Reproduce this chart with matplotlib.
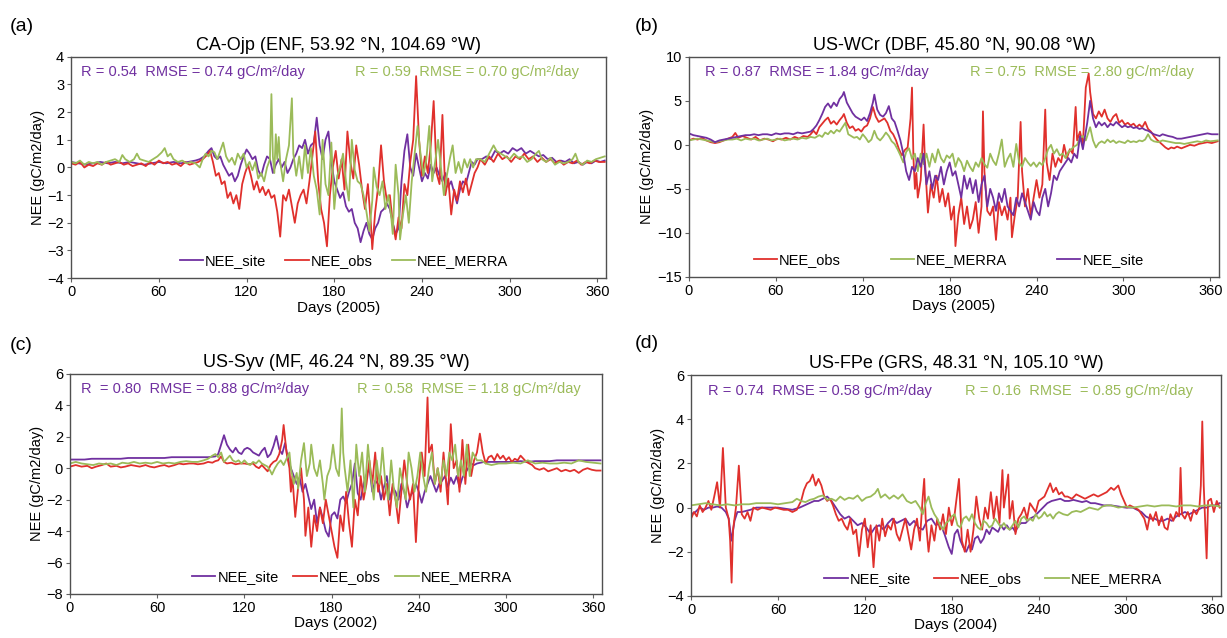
import matplotlib
matplotlib.use('Agg')
import matplotlib.pyplot as plt
import numpy as np

plt.rcParams['font.family'] = ['Liberation Sans', 'DejaVu Sans']

# daily NEE read as (day, value) pairs, gC/m2/day
a_site = [(0,0.2),(5,0.15),(10,0.1),(15,0.15),(20,0.2),(25,0.15),(30,0.2),(35,0.15),(40,0.2),(45,0.15),(50,0.1),(55,0.15),(60,0.2),(65,0.15),(70,0.2),(75,0.15),(80,0.2),(85,0.25),(88,0.3),(91,0.4),(94,0.6),(96,0.7),(98,0.4),(100,0.3),(102,0.4),(104,0.1),(106,-0.1),(108,-0.3),(110,-0.2),(112,-0.5),(114,-0.3),(116,0.1),(118,0.4),(120,0.65),(122,0.5),(124,0.3),(126,0.4),(128,-0.1),(130,-0.3),(132,0.1),(134,0.4),(136,0.3),(138,-0.2),(140,0.1),(142,0.3),(144,0.0),(146,0.2),(148,-0.2),(150,0.0),(152,0.3),(154,0.5),(156,0.8),(158,0.7),(160,1.0),(162,0.5),(164,0.8),(166,0.9),(168,1.8),(170,0.8),(172,0.3),(174,1.0),(176,1.3),(178,0.2),(180,-0.5),(182,-0.8),(184,-1.1),(186,-0.9),(188,-1.4),(190,-1.6),(192,-1.5),(194,-2.0),(196,-2.2),(198,-2.7),(200,-2.3),(202,-2.0),(204,-2.4),(206,-2.6),(208,-2.2),(210,-2.0),(212,-1.6),(214,-1.5),(216,-1.3),(218,-1.5),(220,-2.0),(222,-2.4),(224,-2.2),(226,-0.5),(228,0.6),(230,1.2),(232,0.0),(234,-0.3),(236,0.5),(238,0.0),(240,-0.5),(242,-0.2),(244,-0.4),(246,0.1),(248,-0.2),(250,0.0),(252,-0.3),(254,-0.5),(256,-0.2),(258,-0.7),(260,-0.5),(262,-0.9),(264,-1.3),(266,-0.8),(268,-0.5),(270,-0.6),(272,-0.2),(274,0.2),(276,0.1),(278,0.3),(281,0.3),(284,0.4),(287,0.3),(290,0.6),(293,0.5),(296,0.6),(299,0.5),(302,0.7),(305,0.6),(308,0.7),(311,0.5),(314,0.6),(317,0.5),(320,0.4),(323,0.45),(326,0.3),(329,0.35),(332,0.2),(335,0.25),(338,0.2),(341,0.3),(344,0.15),(347,0.2),(350,0.1),(353,0.2),(356,0.15),(359,0.25),(362,0.2),(365,0.25)]
a_obs = [(0,0.15),(3,0.1),(6,0.2),(9,0.0),(12,0.1),(15,0.05),(18,0.15),(21,0.1),(24,0.2),(27,0.1),(30,0.15),(33,0.2),(36,0.1),(39,0.15),(42,0.05),(45,0.1),(48,0.15),(51,0.05),(54,0.2),(57,0.1),(60,0.25),(63,0.15),(66,0.2),(69,0.1),(72,0.15),(75,0.05),(78,0.2),(81,0.1),(84,0.15),(87,0.2),(90,0.3),(93,0.45),(95,0.6),(97,0.2),(99,-0.3),(101,-0.2),(103,-0.6),(105,-0.5),(107,-1.1),(109,-0.9),(111,-1.3),(113,-1.0),(115,-1.5),(117,-0.6),(119,-0.2),(121,0.1),(123,-0.3),(125,-0.8),(127,-0.5),(129,-0.9),(131,-0.7),(133,-1.0),(135,-0.8),(137,-1.1),(139,-1.0),(141,-1.6),(143,-2.5),(145,-1.0),(147,-1.2),(149,-0.8),(151,-1.4),(153,-2.0),(155,-1.3),(157,-1.0),(159,-0.8),(161,-1.3),(163,-0.5),(165,0.4),(167,1.3),(169,-0.5),(171,-1.5),(173,-2.0),(175,-2.85),(177,-1.0),(179,0.0),(181,0.6),(183,-0.4),(185,0.3),(187,-0.8),(189,1.3),(191,0.2),(193,-0.4),(195,0.8),(197,0.1),(199,-0.8),(201,-1.5),(203,-0.6),(205,-2.0),(206,-2.95),(208,-1.6),(210,-0.7),(212,0.8),(214,-0.5),(216,-1.2),(218,-1.0),(220,-2.0),(222,-2.6),(224,-1.8),(226,-2.2),(228,-0.6),(230,-1.0),(232,0.2),(234,1.0),(236,3.3),(238,1.0),(240,-0.3),(242,0.4),(244,-0.2),(246,0.8),(248,2.4),(250,-0.2),(252,-0.6),(254,1.9),(256,-1.0),(258,-0.4),(260,-1.7),(262,-0.8),(264,-1.2),(266,-0.5),(268,-0.9),(270,-0.4),(272,-1.0),(274,-0.6),(276,-0.2),(278,0.0),(280,0.3),(283,0.1),(286,0.4),(289,0.2),(292,0.5),(295,0.3),(298,0.4),(301,0.2),(304,0.4),(307,0.3),(310,0.5),(313,0.3),(316,0.4),(319,0.2),(322,0.35),(325,0.2),(328,0.3),(331,0.15),(334,0.25),(337,0.1),(340,0.2),(343,0.15),(346,0.25),(349,0.1),(352,0.2),(355,0.15),(358,0.25),(361,0.2),(365,0.2)]
a_merra = [(0,0.2),(3,0.15),(6,0.25),(9,0.1),(12,0.2),(15,0.15),(18,0.2),(21,0.1),(24,0.2),(27,0.25),(30,0.3),(33,0.2),(35,0.45),(37,0.3),(40,0.2),(43,0.3),(45,0.5),(47,0.3),(50,0.25),(53,0.2),(56,0.3),(59,0.4),(62,0.55),(64,0.7),(66,0.4),(68,0.5),(70,0.3),(73,0.2),(76,0.25),(79,0.15),(82,0.2),(85,0.15),(88,0.0),(90,0.3),(92,0.5),(94,0.4),(96,0.6),(98,0.55),(100,0.3),(102,0.6),(104,0.9),(106,0.4),(108,0.2),(110,0.35),(112,0.1),(114,0.5),(116,0.3),(118,0.5),(120,0.0),(122,0.2),(124,-0.1),(126,0.2),(128,-0.4),(130,-0.2),(132,-0.5),(134,0.0),(136,0.3),(137,2.65),(138,0.4),(139,-0.2),(140,1.2),(141,0.3),(142,1.1),(143,0.2),(145,-0.5),(147,0.3),(149,0.8),(151,2.5),(152,0.5),(154,-0.3),(156,0.4),(158,-0.4),(160,0.8),(162,-0.2),(164,0.7),(166,-0.3),(168,-0.8),(170,-1.7),(172,1.0),(174,-0.6),(176,-1.0),(178,0.9),(180,-1.5),(182,-0.3),(184,0.0),(186,0.5),(188,-0.5),(190,-1.2),(192,1.0),(194,-0.1),(196,-0.5),(198,-0.6),(200,-1.0),(202,-1.6),(204,-2.3),(206,-1.2),(207,0.0),(209,-0.7),(211,-1.0),(213,-0.5),(215,-1.5),(217,-1.0),(219,-1.8),(220,-2.4),(222,0.1),(224,-1.0),(225,-2.6),(227,-1.7),(229,-1.0),(231,-2.0),(233,-0.5),(235,0.5),(237,1.5),(239,0.5),(241,-0.3),(243,0.3),(245,1.5),(247,-0.5),(249,0.2),(251,1.0),(253,0.0),(255,-1.0),(257,-0.3),(259,0.3),(261,0.8),(263,-0.2),(265,0.2),(267,-0.2),(269,0.3),(271,0.0),(273,0.3),(275,0.0),(277,0.3),(280,0.3),(283,0.2),(286,0.5),(289,0.8),(291,0.6),(294,0.5),(297,0.4),(300,0.3),(303,0.5),(306,0.35),(309,0.4),(312,0.2),(315,0.3),(318,0.5),(320,0.6),(322,0.3),(325,0.2),(328,0.35),(331,0.1),(334,0.2),(337,0.15),(340,0.2),(343,0.3),(345,0.5),(347,0.2),(350,0.1),(353,0.25),(356,0.2),(359,0.3),(362,0.35),(365,0.4)]

b_obs = [(0,0.5),(3,0.7),(6,0.6),(9,0.8),(12,0.5),(15,0.3),(18,0.2),(21,0.3),(24,0.5),(27,0.7),(30,0.9),(32,1.35),(34,0.8),(37,1.0),(40,0.8),(43,0.6),(46,0.9),(49,0.5),(52,0.7),(55,0.6),(58,0.4),(61,0.7),(64,0.6),(67,0.8),(70,0.6),(73,0.9),(76,0.7),(79,1.0),(82,0.9),(84,1.2),(86,1.6),(88,1.2),(90,2.0),(92,2.4),(94,2.8),(96,3.1),(98,2.4),(100,2.7),(102,2.3),(104,2.8),(106,3.2),(107,3.5),(109,2.5),(111,1.9),(113,2.1),(115,1.6),(117,1.8),(119,1.5),(121,2.0),(123,2.2),(125,3.0),(127,4.3),(129,3.2),(131,2.6),(133,2.8),(135,3.0),(137,2.5),(139,1.6),(141,1.2),(143,0.5),(145,-0.5),(147,-1.2),(149,-0.6),(151,-0.3),(153,3.0),(154,6.5),(155,-1.5),(156,-5.0),(157,-3.2),(158,-6.0),(160,-4.0),(162,2.3),(163,-2.0),(165,-7.7),(167,-4.5),(169,-6.0),(171,-3.5),(173,-6.5),(175,-5.0),(177,-7.0),(179,-5.5),(181,-8.5),(183,-7.0),(184,-11.5),(186,-8.0),(188,-6.0),(190,-9.0),(192,-7.0),(194,-9.5),(196,-8.5),(198,-6.5),(200,-10.0),(202,-7.0),(203,3.8),(204,-3.0),(206,-7.5),(208,-8.0),(210,-7.0),(212,-10.8),(214,-6.5),(216,-8.0),(218,-7.0),(220,-8.5),(222,-6.0),(223,-10.5),(225,-8.0),(227,-6.0),(229,2.6),(230,-3.0),(232,-7.0),(234,-5.0),(236,-8.0),(238,-6.0),(240,-4.0),(242,-6.0),(244,-4.5),(246,4.0),(247,-2.0),(249,-4.0),(251,-1.0),(253,-2.5),(255,-1.5),(257,-2.0),(259,0.0),(261,-1.5),(263,-0.5),(265,-1.0),(267,4.3),(268,0.5),(270,1.5),(272,0.0),(274,6.5),(276,8.1),(277,6.0),(279,3.5),(281,3.0),(283,3.8),(285,3.2),(287,4.0),(289,3.0),(291,2.6),(293,3.2),(295,3.5),(297,2.5),(299,2.8),(301,2.3),(303,2.5),(305,2.2),(307,2.4),(309,2.0),(311,2.3),(313,2.0),(315,2.6),(317,1.8),(319,1.5),(321,1.0),(323,0.6),(325,0.3),(327,0.0),(329,-0.3),(331,-0.5),(333,-0.3),(335,-0.4),(337,-0.2),(340,-0.4),(343,-0.2),(346,0.0),(349,-0.1),(352,0.1),(355,0.2),(358,0.3),(361,0.2),(365,0.4)]
b_merra = [(0,0.5),(3,0.6),(6,0.7),(9,0.6),(12,0.5),(15,0.4),(18,0.3),(21,0.4),(24,0.5),(27,0.6),(30,0.6),(33,0.7),(36,0.5),(39,0.7),(42,0.6),(45,0.7),(48,0.5),(51,0.6),(54,0.7),(57,0.5),(60,0.6),(63,0.7),(66,0.5),(69,0.6),(72,0.7),(75,0.6),(78,0.8),(81,0.7),(84,0.9),(87,0.8),(90,1.1),(92,0.9),(94,1.4),(96,1.2),(98,1.6),(100,1.3),(102,1.7),(104,1.5),(106,2.0),(108,2.5),(110,1.2),(112,1.0),(114,0.8),(116,0.9),(118,0.6),(120,1.2),(122,0.8),(124,0.3),(126,0.6),(128,1.6),(130,0.8),(132,0.5),(134,0.9),(136,1.4),(138,1.0),(140,0.4),(142,0.1),(144,-0.5),(146,-1.2),(148,-2.0),(150,-0.8),(152,-0.4),(154,-1.6),(156,-1.0),(158,-3.0),(160,-1.0),(162,-2.2),(164,-1.0),(166,-2.5),(168,-1.0),(170,-2.0),(172,-0.5),(174,-1.5),(176,-2.0),(178,-1.2),(180,-1.5),(182,-1.0),(184,-2.5),(186,-1.5),(188,-2.0),(190,-3.0),(192,-1.8),(194,-2.5),(196,-3.0),(198,-2.0),(200,-2.5),(202,-1.5),(204,-2.2),(206,-2.6),(208,-1.0),(210,-1.8),(212,-2.3),(214,-1.0),(216,0.6),(218,-2.5),(220,-1.6),(222,-1.0),(224,-2.5),(226,0.1),(228,-2.0),(230,-2.5),(232,-1.5),(234,-2.0),(236,-2.4),(238,-2.0),(240,-2.5),(242,-2.0),(244,-2.3),(246,-1.5),(248,-0.5),(250,0.0),(252,-1.0),(254,-0.5),(256,-1.2),(258,-1.0),(260,-1.5),(262,-0.8),(264,-0.5),(266,-0.2),(268,0.0),(270,0.8),(272,1.0),(274,0.5),(276,1.5),(277,2.0),(279,0.5),(281,-0.3),(283,0.2),(285,0.4),(287,0.2),(289,0.6),(291,0.3),(293,0.5),(295,0.2),(297,0.4),(299,0.3),(301,0.2),(303,0.5),(305,0.3),(307,0.4),(309,0.3),(311,0.5),(313,0.4),(315,0.6),(317,1.2),(319,0.6),(321,0.4),(324,0.3),(327,0.5),(330,0.4),(333,0.3),(336,0.2),(339,0.2),(342,0.1),(345,0.2),(348,0.3),(351,0.4),(354,0.3),(357,0.5),(360,0.4),(365,0.5)]
b_site = [(0,1.3),(3,1.1),(6,1.0),(9,0.9),(12,0.8),(15,0.6),(18,0.3),(21,0.5),(24,0.6),(27,0.7),(30,0.8),(33,0.9),(36,1.0),(39,1.1),(42,1.1),(45,1.2),(48,1.1),(51,1.2),(54,1.2),(57,1.1),(60,1.3),(63,1.2),(66,1.3),(69,1.3),(72,1.2),(75,1.4),(78,1.3),(81,1.4),(84,1.5),(86,1.8),(88,2.2),(90,2.8),(92,3.5),(94,4.3),(96,4.7),(98,4.2),(100,4.8),(102,4.4),(104,5.2),(106,5.6),(107,6.0),(109,4.8),(111,4.2),(113,3.6),(115,3.2),(117,3.0),(119,2.8),(121,3.1),(123,2.7),(125,3.6),(127,4.8),(128,5.7),(130,4.0),(132,3.4),(134,3.2),(136,3.6),(138,4.4),(140,3.0),(142,2.6),(144,1.6),(146,0.5),(148,-1.0),(150,-3.0),(152,-4.0),(154,-2.5),(156,-3.0),(158,-1.5),(160,-2.5),(162,-1.0),(164,-4.5),(166,-3.0),(168,-5.0),(170,-3.5),(172,-4.0),(174,-2.5),(176,-4.5),(178,-3.0),(180,-2.0),(182,-3.5),(184,-3.0),(186,-4.5),(188,-6.0),(190,-3.5),(192,-5.0),(194,-3.8),(196,-5.5),(198,-4.0),(200,-6.5),(202,-4.5),(204,-3.5),(206,-7.0),(208,-5.0),(210,-6.0),(212,-7.5),(214,-5.5),(216,-6.5),(218,-5.0),(220,-7.0),(222,-7.5),(224,-8.0),(226,-6.0),(228,-7.0),(230,-5.5),(232,-6.5),(234,-7.5),(236,-8.5),(238,-6.5),(240,-7.5),(242,-8.0),(244,-6.0),(246,-5.0),(248,-7.0),(250,-5.5),(252,-3.5),(254,-4.0),(256,-3.0),(258,-2.5),(260,-2.0),(262,-1.5),(264,-2.0),(266,-1.0),(268,-1.5),(270,1.0),(272,-0.5),(274,1.5),(275,2.5),(277,5.0),(279,3.0),(281,2.0),(283,2.6),(285,2.2),(287,2.5),(289,2.0),(291,2.4),(293,2.2),(295,2.6),(297,2.3),(299,2.0),(301,2.2),(303,2.0),(305,2.1),(307,1.9),(309,2.0),(311,1.8),(313,1.9),(315,1.7),(317,1.6),(319,1.4),(321,1.2),(323,1.1),(325,1.0),(327,1.2),(329,1.1),(331,1.0),(334,0.9),(337,0.7),(340,0.7),(343,0.8),(346,0.9),(349,1.0),(352,1.1),(355,1.2),(358,1.3),(361,1.2),(365,1.2)]

c_site = [(0,0.55),(5,0.55),(10,0.55),(15,0.6),(20,0.6),(25,0.6),(30,0.6),(35,0.6),(40,0.65),(45,0.65),(50,0.65),(55,0.65),(60,0.65),(65,0.65),(70,0.7),(75,0.7),(80,0.7),(85,0.7),(90,0.7),(95,0.7),(100,0.75),(102,0.9),(104,1.5),(106,2.1),(108,1.5),(110,1.2),(112,1.0),(114,1.3),(116,1.0),(118,0.9),(120,1.2),(122,1.3),(124,1.2),(126,1.0),(128,0.9),(130,0.8),(132,1.1),(134,1.3),(136,0.7),(138,0.9),(140,1.4),(142,2.05),(144,1.2),(146,0.9),(148,1.6),(150,0.6),(152,0.0),(154,-0.5),(156,-1.0),(158,-0.6),(160,-1.5),(162,-1.0),(164,-1.8),(166,-2.6),(168,-2.0),(170,-3.5),(172,-2.5),(174,-3.2),(176,-4.0),(178,-4.35),(180,-3.0),(182,-2.8),(184,-3.2),(186,-2.0),(188,-1.8),(190,-2.2),(192,-1.5),(194,-1.0),(196,0.3),(198,-1.6),(200,-2.0),(202,-1.0),(204,-0.4),(206,0.0),(208,-1.5),(210,-0.8),(212,-1.0),(214,-2.0),(216,-1.2),(218,-0.5),(220,-2.0),(222,-1.2),(224,-1.5),(226,-2.0),(228,-1.0),(230,-1.5),(232,-2.5),(234,-1.8),(236,-1.5),(238,-1.0),(240,-1.5),(242,-2.2),(244,-1.5),(246,-1.0),(248,-0.5),(250,-1.0),(252,-1.5),(254,-1.0),(256,-0.8),(258,-0.5),(260,-1.2),(262,-0.6),(264,-1.0),(266,-0.5),(268,-1.2),(270,-0.6),(272,-0.3),(274,0.0),(276,0.3),(278,0.2),(280,0.3),(285,0.4),(290,0.4),(295,0.4),(300,0.4),(305,0.4),(310,0.45),(315,0.4),(320,0.45),(325,0.45),(330,0.45),(335,0.5),(340,0.5),(345,0.5),(350,0.5),(355,0.5),(360,0.5),(365,0.5)]
c_obs = [(0,0.1),(4,0.2),(8,0.1),(12,0.15),(15,0.0),(18,0.1),(22,0.2),(25,0.3),(28,0.1),(32,0.15),(35,0.05),(38,0.1),(42,0.2),(45,0.15),(48,0.1),(52,0.2),(55,0.1),(58,0.05),(62,0.15),(65,0.2),(68,0.1),(72,0.2),(75,0.3),(78,0.25),(82,0.3),(85,0.3),(88,0.25),(92,0.3),(95,0.4),(98,0.35),(100,0.45),(102,0.5),(104,0.75),(106,0.4),(108,0.3),(111,0.35),(114,0.25),(117,0.3),(120,0.3),(123,0.25),(126,0.3),(128,0.1),(130,0.0),(132,0.2),(134,0.0),(136,-0.2),(138,0.2),(140,0.4),(142,0.5),(144,0.9),(146,1.8),(147,2.75),(149,1.0),(151,0.0),(152,-1.5),(153,-0.5),(155,-3.1),(157,-1.2),(159,0.0),(161,-2.0),(162,-4.3),(164,-2.5),(166,-5.0),(168,-3.0),(170,-4.0),(172,-2.5),(174,-3.5),(176,-2.0),(178,-3.0),(180,-4.0),(182,-5.0),(184,-5.7),(186,-3.0),(188,-4.0),(190,-1.5),(192,-3.5),(194,-5.0),(196,-2.0),(198,-3.0),(200,-0.5),(202,-2.0),(204,-1.0),(206,0.5),(208,-1.0),(210,1.0),(212,-1.5),(214,-0.5),(216,-2.0),(218,-1.0),(220,-3.0),(222,-1.0),(224,-2.0),(226,-3.5),(228,-1.5),(230,0.5),(232,-1.0),(234,-2.0),(236,-1.0),(238,-4.7),(240,-1.0),(242,1.0),(244,-0.5),(246,4.5),(247,1.0),(249,1.5),(251,-1.0),(253,0.0),(255,-1.5),(257,1.0),(260,-2.3),(262,2.8),(264,0.0),(266,0.5),(268,-1.5),(270,1.8),(272,-1.0),(274,1.5),(276,-0.5),(278,0.5),(280,1.0),(282,2.2),(284,1.0),(286,0.3),(288,0.7),(290,0.8),(292,0.5),(294,0.9),(296,0.6),(298,0.8),(300,0.5),(302,0.7),(304,0.4),(306,0.6),(308,0.5),(310,0.8),(312,0.6),(314,0.4),(316,0.3),(318,0.2),(320,0.0),(323,-0.1),(326,0.0),(329,-0.2),(332,-0.1),(335,0.0),(338,-0.2),(341,-0.1),(344,-0.2),(347,-0.1),(350,-0.3),(353,-0.1),(356,0.0),(359,-0.1),(362,-0.15),(365,-0.15)]
c_merra = [(0,0.3),(4,0.4),(8,0.3),(12,0.25),(16,0.2),(20,0.3),(24,0.25),(28,0.3),(32,0.2),(36,0.35),(40,0.3),(44,0.4),(48,0.3),(52,0.35),(56,0.3),(60,0.4),(64,0.3),(68,0.35),(72,0.3),(76,0.4),(80,0.45),(84,0.4),(88,0.4),(92,0.5),(95,0.6),(98,0.8),(100,0.9),(102,0.7),(104,1.0),(106,0.4),(108,0.6),(110,0.8),(112,0.5),(114,0.4),(116,0.5),(118,0.3),(120,0.5),(122,0.3),(124,0.2),(126,0.4),(128,0.3),(130,0.5),(132,0.3),(134,0.2),(136,0.1),(138,-0.2),(139,-0.4),(141,0.0),(143,0.3),(145,0.5),(147,0.2),(149,0.6),(151,1.0),(152,0.0),(154,-1.0),(156,-0.3),(157,-1.3),(159,0.5),(161,1.6),(163,-0.5),(165,0.3),(166,1.5),(168,0.0),(170,-0.5),(172,0.5),(174,-1.0),(175,-2.0),(177,-0.5),(179,0.0),(181,1.5),(183,0.0),(185,-0.5),(186,1.0),(187,3.8),(188,1.0),(189,0.0),(191,-1.5),(193,0.5),(195,-2.5),(197,1.5),(199,-0.5),(201,1.0),(203,-1.5),(205,1.5),(207,-0.5),(209,-2.0),(211,0.5),(213,-1.0),(215,1.3),(217,-1.0),(219,-2.0),(221,0.5),(223,-1.5),(225,-2.5),(227,0.0),(229,-1.0),(231,-2.0),(233,1.0),(235,0.0),(237,-1.5),(239,-0.5),(241,1.0),(243,-0.5),(245,-1.5),(247,0.0),(249,1.0),(251,-1.0),(253,0.0),(255,-1.0),(257,0.5),(259,-0.5),(261,1.0),(263,0.5),(265,1.5),(267,-0.5),(269,0.5),(271,-0.5),(273,1.5),(275,-0.5),(277,1.0),(280,0.5),(283,0.5),(286,0.3),(290,0.2),(295,0.3),(300,0.3),(305,0.35),(310,0.3),(315,0.5),(320,0.3),(325,0.35),(330,0.3),(335,0.3),(340,0.35),(345,0.3),(350,0.5),(355,0.4),(360,0.35),(365,0.3)]

d_site = [(0,-0.3),(3,-0.2),(6,0.0),(9,-0.1),(12,0.0),(15,0.0),(18,0.05),(21,0.0),(24,-0.2),(26,-0.5),(28,-1.5),(30,-0.6),(32,-0.2),(35,-0.2),(38,-0.15),(41,-0.1),(45,0.0),(50,0.0),(55,0.0),(60,0.0),(65,-0.05),(70,-0.1),(75,0.0),(80,0.15),(85,0.3),(88,0.3),(91,0.4),(94,0.5),(97,0.3),(100,0.0),(103,-0.3),(106,-0.5),(109,-0.4),(112,-0.6),(115,-0.8),(118,-0.7),(121,-0.9),(124,-1.2),(127,-0.9),(130,-0.8),(133,-1.0),(136,-0.7),(139,-0.5),(142,-0.7),(145,-0.6),(148,-0.5),(151,-0.8),(154,-0.6),(157,-0.9),(160,-1.0),(163,-0.6),(166,-0.5),(169,-0.8),(172,-0.7),(175,-1.2),(178,-1.8),(180,-2.1),(182,-1.2),(184,-1.0),(186,-1.5),(188,-1.8),(190,-2.0),(192,-1.7),(194,-1.9),(196,-1.4),(198,-1.3),(200,-1.6),(202,-1.4),(204,-1.0),(206,-1.2),(208,-0.9),(210,-1.0),(212,-1.1),(214,-0.8),(216,-1.0),(218,-0.8),(220,-1.0),(222,-0.9),(224,-1.1),(226,-0.8),(228,-0.7),(231,-0.7),(234,-0.5),(237,-0.4),(240,-0.2),(243,0.0),(246,0.2),(249,0.3),(252,0.35),(255,0.4),(258,0.3),(261,0.3),(264,0.35),(267,0.3),(270,0.25),(273,0.3),(276,0.2),(279,0.2),(282,0.15),(285,0.1),(290,0.1),(295,0.05),(300,0.0),(305,0.0),(308,-0.1),(311,-0.2),(314,-0.4),(317,-0.5),(320,-0.5),(323,-0.6),(326,-0.6),(329,-0.5),(332,-0.6),(335,-0.4),(338,-0.3),(341,-0.2),(344,-0.3),(347,-0.2),(350,-0.1),(353,0.0),(356,0.0),(359,0.1),(362,0.1),(365,0.2)]
d_obs = [(0,-0.5),(2,-0.2),(4,-0.4),(6,0.1),(8,-0.2),(10,0.0),(12,0.3),(14,-0.1),(16,0.5),(18,1.15),(20,0.0),(22,2.7),(24,0.0),(26,-0.5),(27,-1.5),(28,-3.4),(29,-1.0),(31,0.0),(33,1.9),(35,-0.3),(37,-0.5),(39,-0.2),(41,-0.6),(43,0.0),(46,-0.1),(49,0.0),(52,-0.05),(55,-0.1),(58,0.0),(61,-0.05),(64,-0.1),(67,-0.1),(70,-0.2),(73,-0.1),(76,0.3),(78,0.8),(80,1.1),(82,1.2),(84,1.5),(86,1.0),(88,1.3),(90,1.0),(92,0.5),(94,0.3),(96,0.4),(98,0.1),(100,-0.3),(102,-0.6),(104,-0.5),(106,-0.8),(108,-1.0),(110,-0.5),(112,-1.2),(114,-1.0),(116,-2.2),(118,-1.0),(120,-0.5),(122,-1.8),(124,-0.8),(126,-2.7),(128,-0.8),(130,-1.5),(132,-0.5),(134,-1.3),(136,-0.8),(138,-1.0),(140,-0.5),(142,-1.2),(144,-1.5),(146,-1.0),(148,-0.5),(150,-1.2),(152,-1.9),(154,-1.0),(156,-0.5),(158,-1.5),(160,0.5),(161,1.3),(162,-0.5),(164,-2.0),(166,-0.8),(168,-1.5),(170,-0.5),(172,-1.0),(174,-0.3),(176,-1.2),(178,0.0),(180,-0.8),(182,-0.3),(185,1.3),(187,-1.5),(189,-2.0),(191,-1.0),(193,-2.0),(195,-1.0),(197,0.5),(199,-0.5),(201,-1.0),(203,0.0),(205,-0.5),(207,0.7),(209,-0.5),(211,0.5),(213,-0.7),(215,1.7),(216,0.0),(219,1.5),(220,-0.5),(222,0.3),(224,-1.2),(226,-0.5),(228,-0.3),(230,0.0),(232,-0.5),(234,0.2),(236,0.0),(238,-0.2),(240,0.3),(242,0.4),(244,0.5),(246,0.8),(248,1.1),(250,0.7),(252,0.9),(254,0.6),(256,0.7),(258,0.5),(260,0.5),(263,0.4),(266,0.6),(269,0.5),(272,0.4),(275,0.5),(278,0.6),(281,0.5),(284,0.6),(287,0.7),(290,0.9),(292,0.8),(295,1.0),(297,0.6),(299,0.3),(301,0.0),(303,0.1),(306,0.0),(309,-0.1),(311,-0.3),(313,-0.5),(315,-1.0),(317,-0.3),(319,-0.6),(321,-0.2),(323,-0.8),(325,-0.4),(327,-0.9),(329,-1.0),(331,-0.3),(333,-0.6),(335,-0.2),(337,-0.4),(338,1.8),(339,-0.3),(341,-0.5),(343,-0.2),(345,-0.6),(347,-0.1),(349,-0.3),(351,0.0),(352,1.0),(353,3.9),(354,1.0),(356,-2.3),(357,0.3),(359,0.4),(361,-0.2),(363,0.3),(365,0.0)]
d_merra = [(0,0.1),(5,0.15),(10,0.2),(15,0.15),(20,0.1),(25,0.15),(30,0.1),(35,0.15),(40,0.15),(45,0.2),(50,0.2),(55,0.2),(60,0.15),(65,0.2),(70,0.25),(73,0.4),(76,0.3),(79,0.25),(82,0.35),(85,0.4),(88,0.5),(91,0.55),(94,0.35),(97,0.4),(100,0.3),(103,0.5),(106,0.35),(109,0.45),(112,0.4),(115,0.55),(118,0.3),(121,0.45),(124,0.5),(127,0.65),(129,0.85),(131,0.45),(134,0.6),(137,0.4),(140,0.55),(143,0.4),(146,0.6),(149,0.3),(152,0.2),(155,0.3),(158,0.0),(160,-0.3),(162,0.2),(164,0.5),(166,0.0),(168,-0.3),(170,-0.5),(172,-0.8),(174,-1.0),(176,-0.7),(178,-0.6),(180,-0.4),(182,-0.3),(184,-0.8),(186,-0.9),(188,-0.5),(190,-0.4),(192,-0.6),(194,-0.3),(196,-0.7),(198,-0.9),(200,-1.0),(202,-0.6),(204,-0.7),(206,-0.9),(208,-0.8),(210,-0.5),(212,-0.7),(214,-0.9),(216,-0.7),(218,-0.9),(220,-1.0),(222,-0.8),(224,-0.6),(226,-0.9),(228,-0.5),(230,-0.4),(232,-0.6),(234,-0.5),(236,-0.6),(238,-0.3),(240,-0.5),(242,-0.4),(244,-0.2),(246,-0.4),(248,-0.3),(250,-0.5),(252,-0.3),(254,-0.2),(257,-0.3),(260,-0.35),(263,-0.2),(266,-0.15),(269,-0.2),(272,-0.1),(275,0.0),(278,-0.05),(281,-0.1),(284,0.05),(287,0.1),(290,0.1),(295,0.0),(300,0.05),(305,0.0),(310,0.05),(315,0.1),(320,0.05),(325,0.1),(330,0.1),(335,0.05),(340,0.1),(345,0.1),(350,0.05),(355,0.1),(360,0.1),(365,0.05)]

titles = ['CA-Ojp (ENF, 53.92 °N, 104.69 °W)', 'US-WCr (DBF, 45.80 °N, 90.08 °W)',
          'US-Syv (MF, 46.24 °N, 89.35 °W)', 'US-FPe (GRS, 48.31 °N, 105.10 °W)']
years = ['2005', '2005', '2002', '2004']
stats_site = ['R = 0.54  RMSE = 0.74 gC/m²/day', 'R = 0.87  RMSE = 1.84 gC/m²/day',
              'R  = 0.80  RMSE = 0.88 gC/m²/day', 'R = 0.74  RMSE = 0.58 gC/m²/day']
stats_merra = ['R = 0.59  RMSE = 0.70 gC/m²/day', 'R = 0.75  RMSE = 2.80 gC/m²/day',
               'R = 0.58  RMSE = 1.18 gC/m²/day', 'R = 0.16  RMSE  = 0.85 gC/m²/day']
ylims = [(-4, 4, 1), (-15, 10, 5), (-8, 6, 2), (-4, 6, 2)]

PURPLE = '#7030a0'
RED = '#e0302c'
GREEN = '#9bbb59'
colors = {'NEE_site': PURPLE, 'NEE_obs': RED, 'NEE_MERRA': GREEN}

# draw order = legend order for each panel
panels = [
    [('NEE_site', a_site), ('NEE_obs', a_obs), ('NEE_MERRA', a_merra)],
    [('NEE_obs', b_obs), ('NEE_MERRA', b_merra), ('NEE_site', b_site)],
    [('NEE_site', c_site), ('NEE_obs', c_obs), ('NEE_MERRA', c_merra)],
    [('NEE_site', d_site), ('NEE_obs', d_obs), ('NEE_MERRA', d_merra)],
]
boxes = [(0.058, 0.564, 0.436, 0.347), (0.5615, 0.566, 0.432, 0.345),
         (0.057, 0.069, 0.4336, 0.345), (0.5632, 0.066, 0.432, 0.346)]
colspace = [1.3, 3.4, 1.0, 1.6]
legx = [0.51, 0.49, 0.53, 0.57]
stat_x = [(0.019, 0.53), (0.03, 0.53), (0.02, 0.54), (0.032, 0.517)]
letters = ['(a)', '(b)', '(c)', '(d)']
letter_pos = [(0.008, 0.951), (0.517, 0.951), (0.008, 0.451), (0.517, 0.455)]

fig = plt.figure(figsize=(12.27, 6.38), dpi=100)

for i in range(4):
    ax = fig.add_axes(boxes[i])
    for name, pts in panels[i]:
        pts = np.array(pts)
        ax.plot(pts[:, 0], pts[:, 1], color=colors[name], lw=1.3, label=name)

    lo, hi, step = ylims[i]
    ax.set_ylim(lo, hi)
    ax.set_yticks(np.arange(lo, hi + step / 2, step))
    ax.set_xlim(0, 366)
    ax.set_xticks(range(0, 361, 60))
    ax.tick_params(labelsize=10.5, length=3, width=0.8, color='#606060', pad=2)
    for s in ax.spines.values():
        s.set_color('#505050')
        s.set_linewidth(1.0)

    ax.set_title(titles[i], fontsize=13, pad=5)
    ax.set_xlabel('Days (' + years[i] + ')', fontsize=11, labelpad=1)
    ax.set_ylabel('NEE (gC/m2/day)', fontsize=10.5, labelpad=2)

    ax.text(stat_x[i][0], 0.93, stats_site[i], transform=ax.transAxes,
            color=PURPLE, fontsize=10.5, va='center')
    ax.text(stat_x[i][1], 0.93, stats_merra[i], transform=ax.transAxes,
            color=GREEN, fontsize=10.5, va='center')

    ax.legend(loc='lower center', bbox_to_anchor=(legx[i], 0.0), ncol=3, frameon=False,
              fontsize=10.5, handlelength=1.6, handletextpad=0.15,
              columnspacing=colspace[i], borderaxespad=0.3)

    fig.text(letter_pos[i][0], letter_pos[i][1], letters[i], fontsize=14)

fig.savefig('out.png', dpi=100)
